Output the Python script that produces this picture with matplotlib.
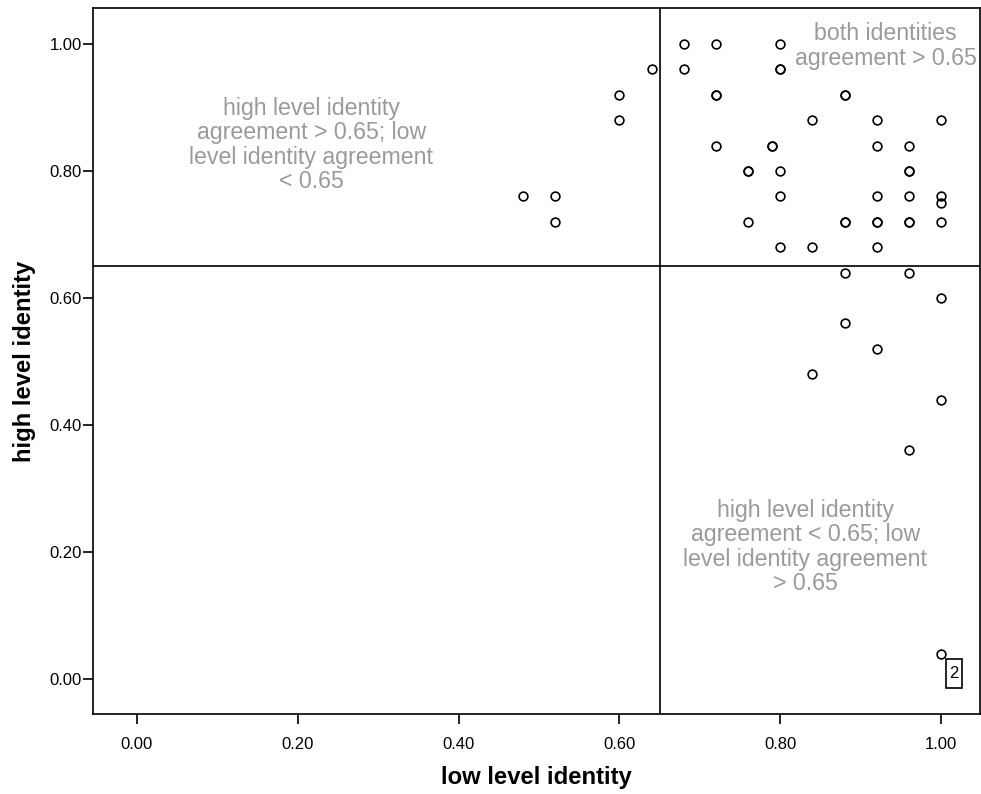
import matplotlib
matplotlib.use("Agg")
import matplotlib.pyplot as plt
from matplotlib.patches import Rectangle

plt.rcParams['font.family'] = ['Liberation Sans', 'DejaVu Sans']

# low level identity (x) and high level identity (y); repeated pairs are overlapping cases
low_level = [0.48, 0.52, 0.52, 0.60, 0.60, 0.64, 0.68, 0.68, 0.72, 0.72, 0.72, 0.72,
             0.80, 0.80, 0.80, 0.88, 0.88, 0.84, 0.92, 1.00, 0.79, 0.79, 0.92, 0.96,
             0.76, 0.76, 0.80, 0.96, 0.96, 0.80, 0.92, 0.96, 1.00, 1.00, 0.76, 0.88,
             0.88, 0.92, 0.92, 0.96, 0.96, 1.00, 0.80, 0.84, 0.92, 0.88, 0.96, 1.00,
             0.88, 0.92, 0.84, 1.00, 0.96, 1.00]
high_level = [0.76, 0.76, 0.72, 0.92, 0.88, 0.96, 1.00, 0.96, 1.00, 0.92, 0.92, 0.84,
              1.00, 0.96, 0.96, 0.92, 0.92, 0.88, 0.88, 0.88, 0.84, 0.84, 0.84, 0.84,
              0.80, 0.80, 0.80, 0.80, 0.80, 0.76, 0.76, 0.76, 0.76, 0.75, 0.72, 0.72,
              0.72, 0.72, 0.72, 0.72, 0.72, 0.72, 0.68, 0.68, 0.68, 0.64, 0.64, 0.60,
              0.56, 0.52, 0.48, 0.44, 0.36, 0.04]

threshold = 0.65
ticks = [0.0, 0.2, 0.4, 0.6, 0.8, 1.0]
tick_labels = ["0.00", "0.20", "0.40", "0.60", "0.80", "1.00"]

outlier_label = "2"

region_texts = [
    (0.217, 0.841, "high level identity\nagreement > 0.65; low\nlevel identity agreement\n< 0.65"),
    (0.931, 0.997, "both identities\nagreement > 0.65"),
    (0.831, 0.208, "high level identity\nagreement < 0.65; low\nlevel identity agreement\n> 0.65"),
]

fig = plt.figure(figsize=(9.81, 7.94), dpi=100)
ax = fig.add_axes([0.0948, 0.1008, 0.9042, 0.8891])

ax.plot(low_level, high_level, linestyle='none', marker='o', markersize=6.3,
        markerfacecolor='none', markeredgecolor='black', markeredgewidth=1.2, zorder=3)

ax.axvline(threshold, color='black', linewidth=1.2, zorder=2)
ax.axhline(threshold, color='black', linewidth=1.2, zorder=2)

for tx, ty, s in region_texts:
    ax.text(tx, ty, s, ha='center', va='center', fontsize=16.7, color='#9a9a9a',
            linespacing=1.07, zorder=1)

# case label box next to the outlier
bx, by, bw, bh = 1.0162, 0.0087, 0.0199, 0.0457
ax.add_patch(Rectangle((bx - bw / 2, by - bh / 2), bw, bh, facecolor='white',
                       edgecolor='black', linewidth=1.2, zorder=4))
ax.text(bx, by, outlier_label, ha='center', va='center', fontsize=12, zorder=5)

ax.set_xlim(-0.0547, 1.0484)
ax.set_ylim(-0.0551, 1.0567)
ax.set_xticks(ticks)
ax.set_xticklabels(tick_labels)
ax.set_yticks(ticks)
ax.set_yticklabels(tick_labels)
ax.tick_params(direction='out', length=7.5, width=1.2, labelsize=12, colors='black')
ax.tick_params(axis='x', pad=9)
ax.tick_params(axis='y', pad=0.5)

for side in ['left', 'bottom', 'top', 'right']:
    ax.spines[side].set_linewidth(1.2)

ax.set_xlabel("low level identity", fontsize=17.2, fontweight='bold', labelpad=10)
ax.set_ylabel("high level identity", fontsize=17.2, fontweight='bold', labelpad=10)

fig.savefig("out.png", dpi=100)
